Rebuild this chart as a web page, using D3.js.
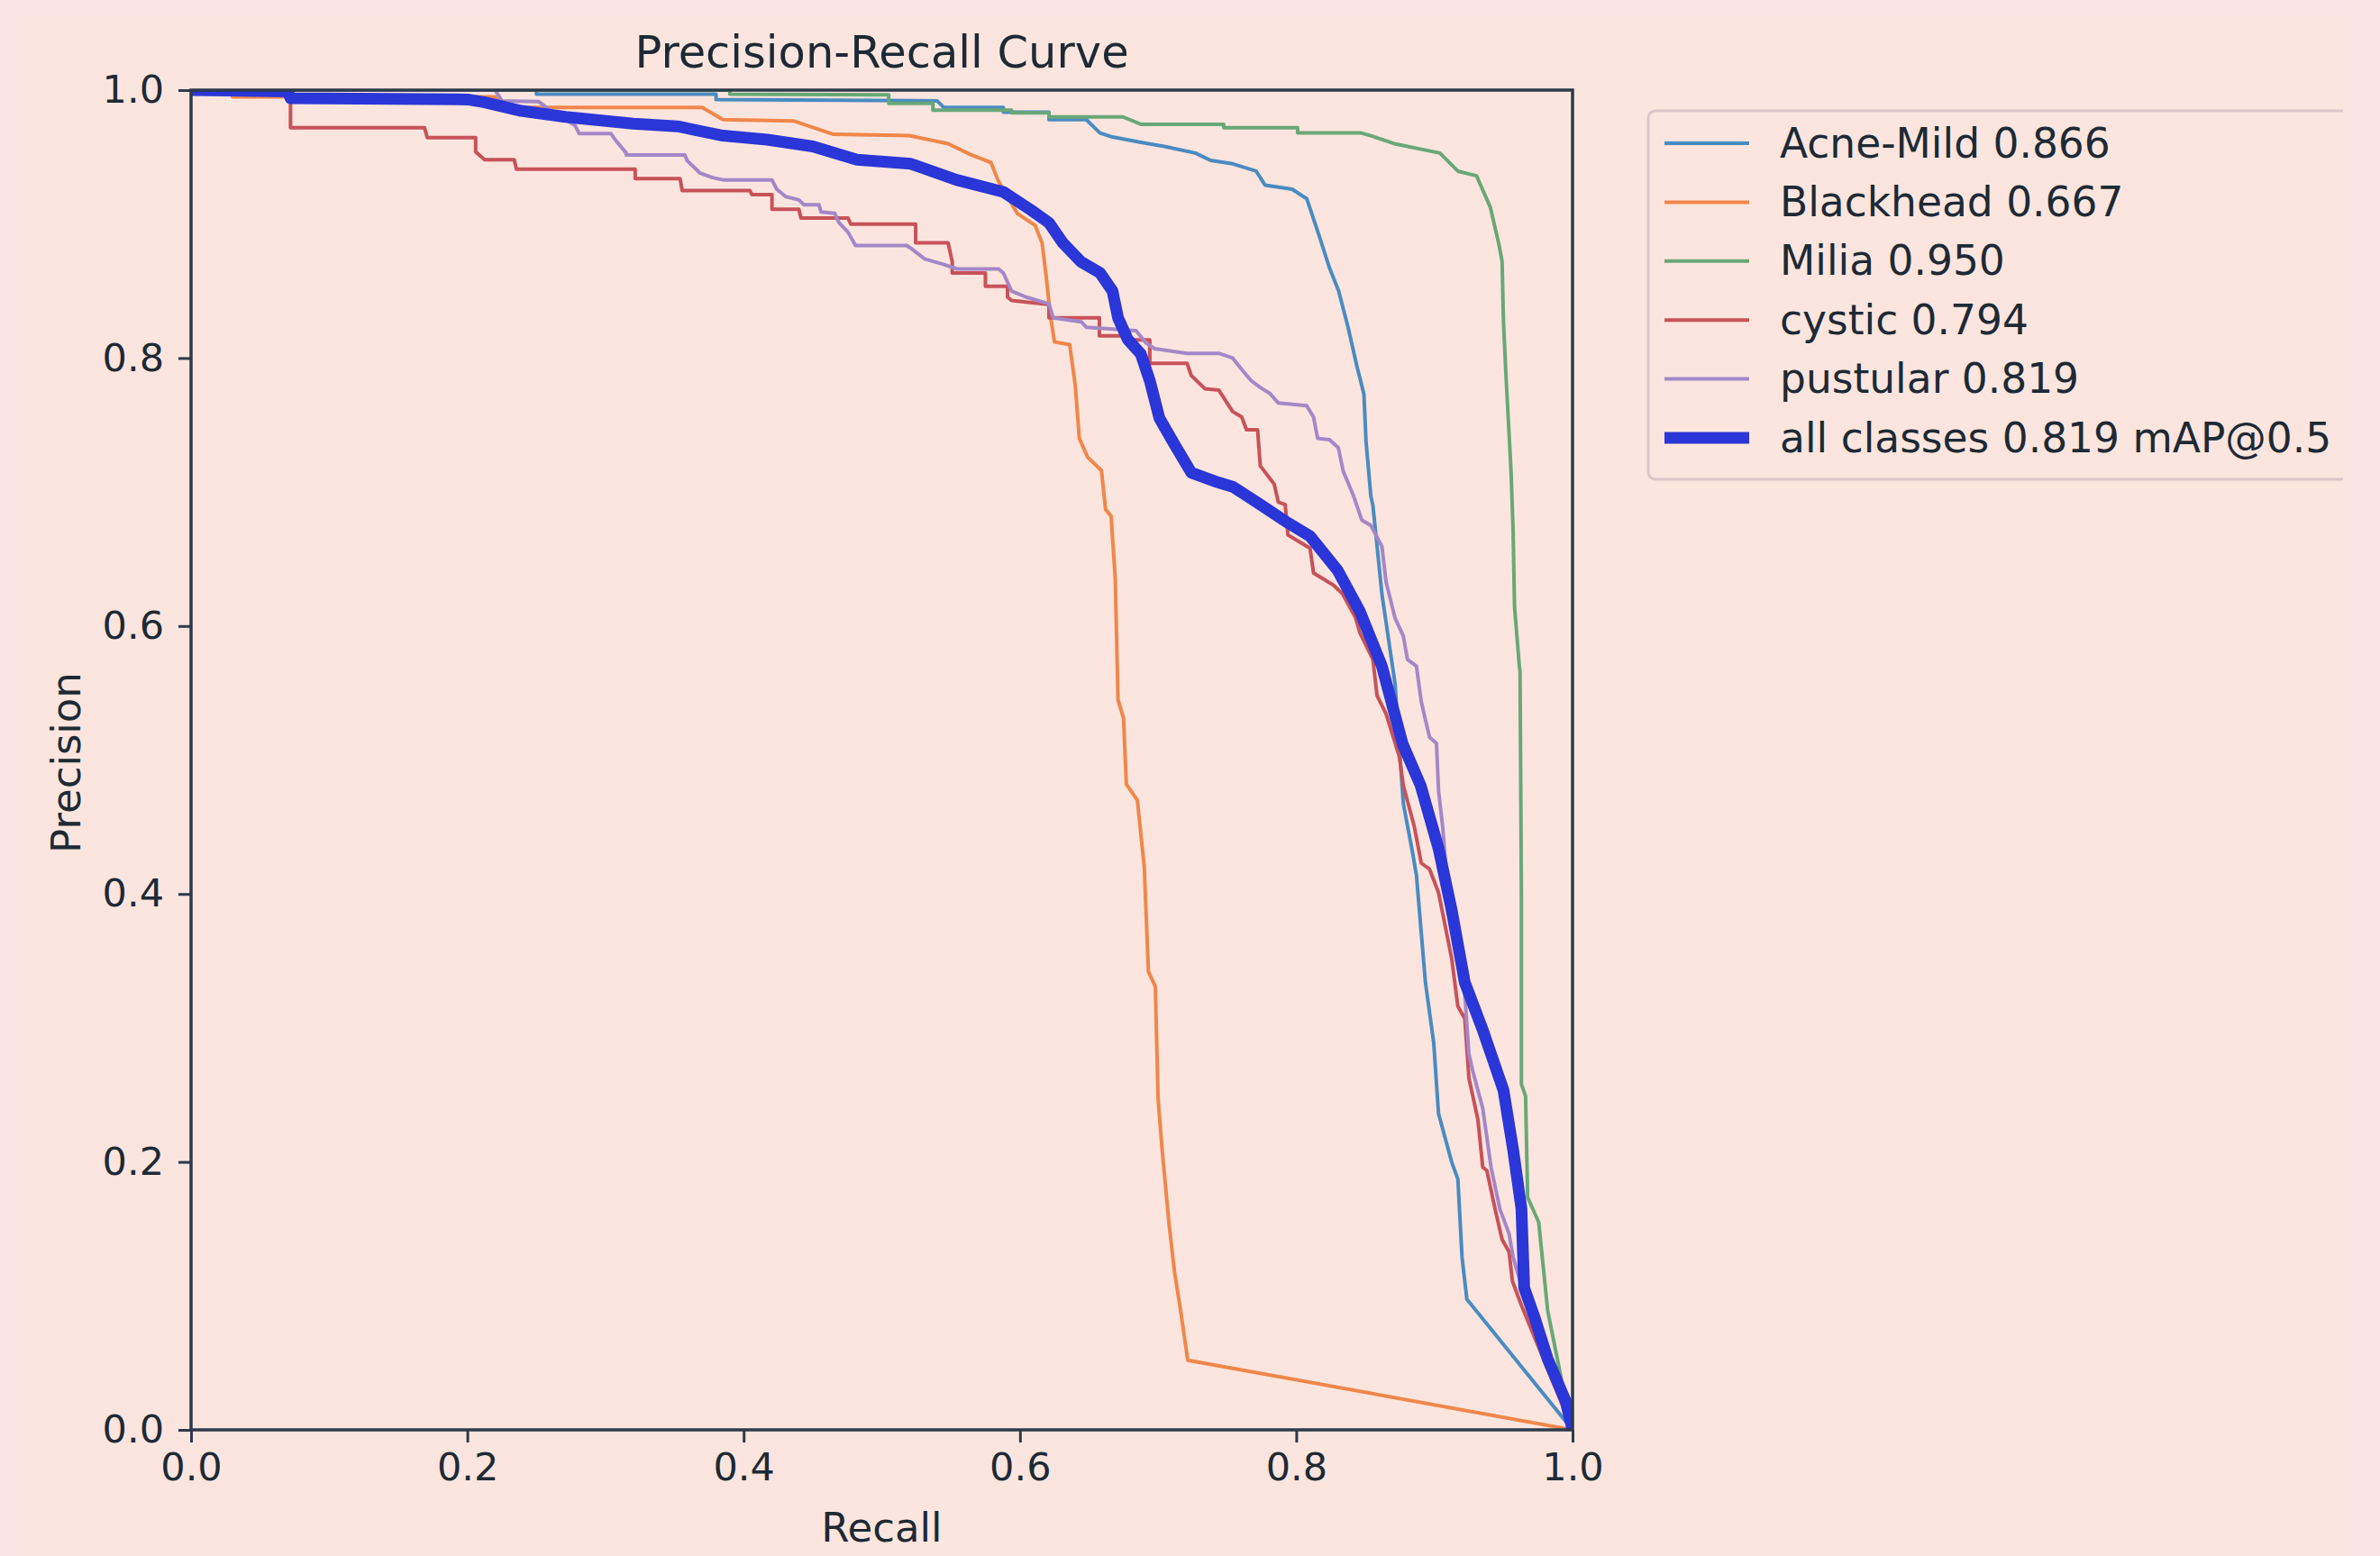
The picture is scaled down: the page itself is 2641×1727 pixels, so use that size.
<!DOCTYPE html>
<html>
<head>
<meta charset="utf-8">
<script src="https://cdn.jsdelivr.net/npm/d3@7"></script>
<style>
  body { margin: 0; background: #fde4e4; }
  svg { display: block; }
  text { font-family: "DejaVu Sans", sans-serif; fill: #1d2a35; }
</style>
</head>
<body>
<svg id="chart" width="2641" height="1727"></svg>
<script>
const classNames = ['Acne-Mild', 'Blackhead', 'Milia', 'cystic', 'pustular']
const classAP = [0.866, 0.667, 0.950, 0.794, 0.819]
const mapAll = 0.819
const tickValues = [0, 0.2, 0.4, 0.6, 0.8, 1.0]

// [recall, precision]
const acneMild = [[0,1],[0.25,1],[0.25,0.997],[0.38,0.997],[0.38,0.993],[0.54,0.992],[0.545,0.987],[0.588,0.987],[0.588,0.9835],[0.621,0.9835],[0.621,0.978],[0.648,0.978],[0.658,0.968],[0.667,0.965],[0.6875,0.961],[0.7045,0.958],[0.727,0.953],[0.738,0.9475],[0.754,0.945],[0.771,0.9395],[0.7775,0.929],[0.797,0.926],[0.8076,0.919],[0.817,0.890],[0.824,0.8675],[0.8307,0.850],[0.8375,0.823],[0.844,0.7935],[0.849,0.773],[0.8505,0.738],[0.854,0.697],[0.8555,0.69],[0.862,0.624],[0.8715,0.557],[0.8775,0.4675],[0.884,0.432],[0.887,0.414],[0.8935,0.334],[0.8995,0.289],[0.903,0.236],[0.9125,0.200],[0.917,0.187],[0.920,0.129],[0.9235,0.0975],[1,0]]
const blackhead = [[0,1],[0.03,1],[0.03,0.995],[0.22,0.995],[0.225,0.987],[0.37,0.987],[0.385,0.978],[0.436,0.977],[0.465,0.967],[0.52,0.966],[0.548,0.960],[0.564,0.952],[0.579,0.946],[0.584,0.933],[0.598,0.908],[0.611,0.899],[0.616,0.886],[0.619,0.861],[0.622,0.832],[0.625,0.812],[0.636,0.810],[0.640,0.780],[0.643,0.740],[0.649,0.726],[0.659,0.716],[0.662,0.687],[0.666,0.682],[0.669,0.635],[0.671,0.545],[0.675,0.531],[0.677,0.482],[0.685,0.470],[0.690,0.420],[0.693,0.342],[0.698,0.331],[0.700,0.247],[0.703,0.208],[0.708,0.153],[0.712,0.117],[0.716,0.091],[0.7215,0.052],[1,0]]
const milia = [[0,1],[0.39,1],[0.39,0.997],[0.505,0.9965],[0.505,0.990],[0.537,0.990],[0.537,0.985],[0.594,0.985],[0.594,0.983],[0.621,0.983],[0.621,0.980],[0.6745,0.980],[0.6875,0.9745],[0.7475,0.9745],[0.7475,0.972],[0.801,0.972],[0.801,0.968],[0.847,0.968],[0.854,0.966],[0.871,0.960],[0.904,0.953],[0.917,0.9395],[0.9305,0.936],[0.9405,0.9125],[0.947,0.8835],[0.949,0.872],[0.950,0.827],[0.952,0.783],[0.9555,0.7155],[0.957,0.670],[0.958,0.6145],[0.9615,0.570],[0.962,0.5655],[0.963,0.395],[0.963,0.258],[0.966,0.249],[0.9675,0.1735],[0.9755,0.155],[0.979,0.1195],[0.982,0.089],[0.9915,0.040],[0.998,0.004],[1,0]]
const cystic = [[0,1],[0.072,1],[0.072,0.972],[0.169,0.972],[0.171,0.9645],[0.206,0.9645],[0.206,0.954],[0.2125,0.948],[0.234,0.948],[0.2355,0.941],[0.3215,0.941],[0.3215,0.934],[0.354,0.934],[0.3555,0.925],[0.4045,0.925],[0.406,0.922],[0.4205,0.922],[0.4205,0.911],[0.440,0.911],[0.4415,0.9045],[0.4755,0.9045],[0.4775,0.900],[0.5245,0.900],[0.5245,0.886],[0.548,0.886],[0.551,0.872],[0.551,0.8635],[0.575,0.8635],[0.575,0.8535],[0.591,0.8535],[0.591,0.8455],[0.594,0.843],[0.621,0.840],[0.621,0.830],[0.6575,0.830],[0.6575,0.8165],[0.6745,0.8165],[0.678,0.8135],[0.694,0.8135],[0.694,0.796],[0.721,0.796],[0.724,0.787],[0.734,0.777],[0.744,0.776],[0.754,0.760],[0.7605,0.756],[0.764,0.7465],[0.772,0.7465],[0.774,0.7195],[0.784,0.706],[0.787,0.6925],[0.792,0.6905],[0.794,0.668],[0.81,0.658],[0.8125,0.6395],[0.827,0.6305],[0.8335,0.624],[0.843,0.606],[0.846,0.595],[0.8555,0.575],[0.8585,0.548],[0.865,0.5345],[0.8745,0.503],[0.8775,0.481],[0.8855,0.450],[0.8905,0.423],[0.8965,0.4185],[0.903,0.401],[0.9125,0.352],[0.917,0.316],[0.922,0.307],[0.925,0.2625],[0.9315,0.2315],[0.935,0.196],[0.938,0.1935],[0.944,0.1645],[0.949,0.142],[0.954,0.133],[0.9565,0.111],[0.963,0.093],[1,0]]
const pustular = [[0,1],[0.22,1],[0.225,0.992],[0.2515,0.9915],[0.26,0.985],[0.278,0.9735],[0.281,0.9675],[0.304,0.9675],[0.307,0.963],[0.315,0.953],[0.315,0.9515],[0.3575,0.9515],[0.359,0.9475],[0.365,0.9415],[0.3685,0.938],[0.378,0.9345],[0.385,0.933],[0.4205,0.933],[0.424,0.926],[0.4305,0.9205],[0.440,0.918],[0.4435,0.9145],[0.4545,0.9145],[0.456,0.909],[0.466,0.908],[0.469,0.901],[0.4755,0.894],[0.481,0.884],[0.518,0.884],[0.521,0.882],[0.531,0.874],[0.5445,0.870],[0.5545,0.8665],[0.5845,0.8665],[0.588,0.8635],[0.594,0.850],[0.6045,0.8455],[0.621,0.8405],[0.624,0.830],[0.6445,0.827],[0.648,0.823],[0.684,0.8205],[0.691,0.8115],[0.6975,0.807],[0.721,0.8035],[0.744,0.8035],[0.754,0.800],[0.7605,0.7915],[0.7675,0.783],[0.774,0.778],[0.781,0.7735],[0.787,0.7665],[0.8075,0.7645],[0.8125,0.756],[0.8155,0.740],[0.824,0.739],[0.8305,0.733],[0.834,0.7155],[0.8415,0.697],[0.8475,0.679],[0.854,0.675],[0.862,0.6595],[0.865,0.633],[0.8715,0.606],[0.8775,0.5925],[0.8805,0.575],[0.887,0.570],[0.8905,0.5435],[0.8935,0.530],[0.8965,0.517],[0.9015,0.5125],[0.903,0.477],[0.906,0.450],[0.9095,0.4055],[0.9155,0.370],[0.922,0.325],[0.925,0.2805],[0.928,0.267],[0.935,0.240],[0.941,0.196],[0.9475,0.1645],[0.954,0.1465],[0.957,0.129],[0.965,0.10],[1,0]]
const allClasses = [[0,1],[0.07,0.999],[0.072,0.994],[0.20,0.993],[0.212,0.991],[0.239,0.9845],[0.271,0.980],[0.320,0.975],[0.352,0.973],[0.385,0.966],[0.417,0.963],[0.450,0.958],[0.482,0.948],[0.521,0.945],[0.554,0.933],[0.588,0.924],[0.608,0.9105],[0.621,0.901],[0.631,0.886],[0.644,0.872],[0.658,0.8635],[0.667,0.850],[0.671,0.830],[0.678,0.814],[0.6875,0.803],[0.694,0.783],[0.701,0.755],[0.711,0.737],[0.724,0.7145],[0.741,0.708],[0.754,0.704],[0.772,0.692],[0.794,0.677],[0.810,0.667],[0.830,0.6415],[0.846,0.611],[0.862,0.570],[0.877,0.512],[0.890,0.481],[0.903,0.434],[0.9125,0.388],[0.922,0.334],[0.935,0.2985],[0.950,0.2535],[0.957,0.209],[0.963,0.165],[0.965,0.106],[0.9725,0.084],[0.982,0.053],[0.995,0.0215],[1,0]]

const classCurves = [acneMild, blackhead, milia, cystic, pustular]
const classColors = ['#4a8bc2', '#f0874a', '#68a877', '#c8525a', '#a487c8']
const allColor = '#2a36d8'

const svg = d3.select('#chart')

// figure background with the lighter border strip
svg.append('rect')
    .attr('x', 25)
    .attr('y', 17)
    .attr('width', 2575)
    .attr('height', 1710)
    .attr('fill', '#fce5de')

const plotLeft = 212
const plotRight = 1745
const plotTop = 100
const plotBottom = 1587

const x = d3.scaleLinear().domain([0, 1]).range([plotLeft, plotRight])
const y = d3.scaleLinear().domain([0, 1]).range([plotBottom, plotTop])

svg.append('defs')
    .append('clipPath')
    .attr('id', 'plot-clip')
    .append('rect')
    .attr('x', plotLeft)
    .attr('y', plotTop)
    .attr('width', plotRight - plotLeft)
    .attr('height', plotBottom - plotTop)

const line = d3.line()
    .x(d => x(d[0]))
    .y(d => y(d[1]))

const plot = svg.append('g').attr('clip-path', 'url(#plot-clip)')

classCurves.forEach((curve, i) => {
    plot.append('path')
        .datum(curve)
        .attr('d', line)
        .attr('fill', 'none')
        .attr('stroke', classColors[i])
        .attr('stroke-width', 4)
        .attr('stroke-linejoin', 'round')
})

plot.append('path')
    .datum(allClasses)
    .attr('d', line)
    .attr('fill', 'none')
    .attr('stroke', allColor)
    .attr('stroke-width', 13)
    .attr('stroke-linejoin', 'round')

// axes
const axisColor = '#2b3b4a'

const xAxis = svg.append('g')
    .attr('transform', `translate(0,${plotBottom})`)
    .call(d3.axisBottom(x).tickValues(tickValues).tickFormat(d3.format('.1f')).tickSize(14).tickPadding(11))

const yAxis = svg.append('g')
    .attr('transform', `translate(${plotLeft},0)`)
    .call(d3.axisLeft(y).tickValues(tickValues).tickFormat(d3.format('.1f')).tickSize(14).tickPadding(16))

;[xAxis, yAxis].forEach(g => {
    g.select('.domain').remove()
    g.selectAll('.tick line').attr('stroke', axisColor).attr('stroke-width', 3)
    g.selectAll('.tick text')
        .style('font-family', '"DejaVu Sans", sans-serif')
        .style('font-size', '43px')
        .attr('fill', '#1d2a35')
})

svg.append('rect')
    .attr('x', plotLeft)
    .attr('y', plotTop)
    .attr('width', plotRight - plotLeft)
    .attr('height', plotBottom - plotTop)
    .attr('fill', 'none')
    .attr('stroke', axisColor)
    .attr('stroke-width', 3.5)

svg.append('text')
    .attr('x', (plotLeft + plotRight) / 2)
    .attr('y', 75)
    .attr('text-anchor', 'middle')
    .style('font-size', '49.5px')
    .text('Precision-Recall Curve')

svg.append('text')
    .attr('x', (plotLeft + plotRight) / 2)
    .attr('y', 1711)
    .attr('text-anchor', 'middle')
    .style('font-size', '45px')
    .text('Recall')

svg.append('text')
    .attr('transform', `translate(89,${(plotTop + plotBottom) / 2 + 3}) rotate(-90)`)
    .attr('text-anchor', 'middle')
    .style('font-size', '45px')
    .text('Precision')

// legend
const legendItems = classNames.map((name, i) => ({
    label: `${name} ${classAP[i].toFixed(3)}`,
    color: classColors[i],
    width: 4
}))
legendItems.push({ label: `all classes ${mapAll.toFixed(3)} mAP@0.5`, color: allColor, width: 13 })

const legend = svg.append('g')

legend.append('rect')
    .attr('x', 1829)
    .attr('y', 123)
    .attr('width', 800)
    .attr('height', 409)
    .attr('rx', 8)
    .attr('fill', '#fce5de')
    .attr('stroke', '#dcc6c8')
    .attr('stroke-width', 3)

const rowY = d3.scaleLinear().domain([0, 5]).range([159, 486])

legendItems.forEach((item, i) => {
    legend.append('line')
        .attr('x1', 1847)
        .attr('x2', 1941)
        .attr('y1', rowY(i))
        .attr('y2', rowY(i))
        .attr('stroke', item.color)
        .attr('stroke-width', item.width)
    legend.append('text')
        .attr('x', 1975)
        .attr('y', rowY(i) + 15.5)
        .style('font-size', '45.5px')
        .text(item.label)
})

// right border strip drawn over the legend edge
svg.append('rect')
    .attr('x', 2600)
    .attr('y', 0)
    .attr('width', 41)
    .attr('height', 1727)
    .attr('fill', '#fde4e4')
</script>
</body>
</html>
